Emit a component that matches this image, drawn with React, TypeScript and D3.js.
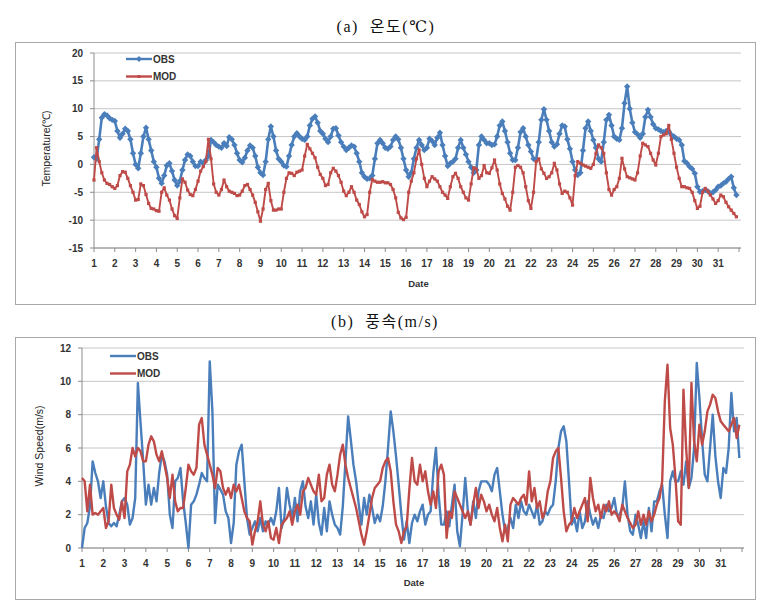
import React from 'react';
import * as d3 from 'd3';

// Hourly series sampled every 3 hours (8 values per day, days 1..31)
const tempObs: number[] = [
  1.3, 1.0, 4.5, 8.4, 9.0, 8.8, 8.3, 8.0,
  7.8, 6.0, 4.8, 5.5, 6.4, 6.0, 4.5, 2.0,
  0.0, -0.7, 2.0, 5.0, 6.6, 4.5, 2.5, 0.5,
  -0.5, -2.5, -3.4, -2.0, -0.2, 0.2, -1.2, -2.8,
  -3.8, -3.0, -1.0, 0.8, 1.8, 1.5, 0.5, -0.3,
  -0.3, 0.5, 0.2, 0.8, 1.5, 4.4, 4.0, 3.5,
  3.2, 3.0, 3.8, 3.3, 4.9, 4.5, 3.5, 2.0,
  0.8, 0.4, 1.2, 2.5, 3.4, 3.0, 1.5, -0.5,
  -1.5, -1.9, 0.5, 4.5, 6.8, 5.0, 2.5, 1.0,
  0.5, -0.2, -0.4, 1.5, 3.5, 5.0, 5.6, 5.0,
  4.6, 4.4, 5.0, 7.0, 8.2, 8.6, 7.5, 6.0,
  5.5, 4.6, 4.0, 5.0, 6.4, 6.5, 5.2, 4.0,
  3.2, 2.6, 3.0, 3.4, 3.2, 2.0, 0.5, -1.5,
  -2.2, -2.6, -2.5, -2.0, 1.0, 3.8, 4.4, 3.8,
  3.0, 2.8, 3.2, 4.4, 5.0, 4.5, 3.0, 1.0,
  -1.0, -2.2, -1.5, 1.0, 3.0, 4.4, 3.5, 2.6,
  3.0, 4.6, 4.2, 3.5, 4.8, 5.7, 3.5, 1.5,
  -0.3, 0.2, 0.5, 1.0, 3.0, 4.4, 3.0, 1.8,
  0.5, -0.5, -1.5, -1.0, 3.5, 5.0, 4.4, 3.8,
  3.8, 3.5, 3.6, 5.0, 7.0, 7.7, 6.0, 4.0,
  2.0, 0.8, 0.8, 3.0, 5.8, 6.5, 5.0, 3.5,
  2.3, 1.0, 0.8, 4.0, 8.0, 9.9, 8.0, 6.0,
  4.0, 3.2, 3.6, 5.5, 7.0, 6.8, 4.5, 2.8,
  0.5, -1.0, -1.9, -1.5, 2.5, 6.5, 7.7, 6.0,
  4.4, 3.0, 1.0, 0.5, 4.0, 8.0, 8.9, 7.0,
  5.0, 4.6, 4.4, 6.5, 11.0, 14.0, 10.0, 7.5,
  5.8, 5.4, 4.8, 5.5, 8.5, 9.8, 8.5, 7.2,
  6.5, 6.3, 6.0, 5.8, 6.0, 5.9, 5.3, 5.0,
  4.6, 4.4, 3.5, 0.6, 0.2, -0.4, -0.8, -1.6,
  -4.0, -4.9, -4.8, -4.6, -4.8, -5.2, -5.0, -4.6,
  -4.0, -3.8, -3.4, -3.1, -2.6, -2.2, -4.2, -5.5,
];

const tempMod: number[] = [
  -2.8, 3.0, 0.5, -1.5, -2.8, -3.4, -3.6, -4.0,
  -4.3, -3.8, -2.0, -1.3, -1.4, -2.5, -3.8, -5.0,
  -6.4, -6.3, -3.5, -3.8, -5.4, -7.0, -7.9, -8.0,
  -8.3, -8.4, -5.0, -4.2, -5.5, -6.4, -8.0, -9.2,
  -9.7, -6.0, -2.6, -3.2, -4.6, -5.4, -5.6, -4.5,
  -3.0, -1.2, -0.4, 0.5, 4.5, 1.0, -3.5, -5.0,
  -5.5, -4.5, -2.8, -4.0, -4.8, -5.0, -5.2, -5.6,
  -5.5, -4.8, -3.8, -3.6, -4.5, -5.5, -6.8, -8.5,
  -10.2, -8.0, -4.5, -3.4, -6.5, -8.2, -8.2, -8.0,
  -8.0, -5.0, -2.5, -1.5, -1.6, -2.0, -1.4, -1.2,
  -1.0, 1.5, 3.6, 2.8, 2.0, 1.2, -0.5, -1.8,
  -2.5, -3.8, -3.6, -1.5, -0.7, -1.2, -2.0, -3.2,
  -4.8, -5.6, -5.0, -4.0, -5.0, -6.4, -7.2, -8.5,
  -9.4, -9.0, -5.0, -2.7, -3.0, -3.2, -3.2, -3.1,
  -3.3, -3.3, -3.6, -4.5, -6.0, -8.6, -9.6, -9.9,
  -9.5, -5.0, -3.0, -1.5, 1.0, 2.6, 0.0, -2.5,
  -4.0, -3.0, -2.2, -2.6, -3.0, -4.0, -5.0, -5.5,
  -6.1, -4.0, -2.2, -1.6, -2.5, -4.0, -5.0, -6.0,
  -6.4, -3.5, -0.6, -0.8, -2.5, -2.0, -0.2, -1.5,
  -1.6, -0.6, 0.8, -1.0, -3.5, -5.2, -6.2, -7.5,
  -8.2, -5.0, -0.5, -0.2, -0.5, -1.5, -4.0, -6.5,
  -7.9, -5.0, 0.5, 1.0, -0.8, -1.6, -2.5, -2.2,
  -1.5, 0.2, -1.0, -3.5, -5.2, -4.8, -5.0, -6.0,
  -7.3, -2.0, 0.5, 0.2, -0.1, -0.3, -0.5, -0.7,
  0.0, 2.0, 3.5, 3.0, 2.0, -1.5, -4.5, -5.5,
  -4.5, -4.0, -2.5, 1.1, -0.8, -2.2, -2.4, -2.6,
  -2.8, -1.5, 1.5, 3.8, 3.5, 3.2, 2.0, 0.8,
  -0.1, 2.0, 5.0, 5.3, 5.5, 7.0, 4.5, 2.0,
  -0.5, -2.5, -4.0, -4.0, -4.2, -4.3, -5.0, -6.5,
  -7.9, -7.5, -5.0, -4.3, -4.8, -5.5, -6.2, -7.0,
  -6.5, -5.5, -5.8, -6.8, -7.6, -8.2, -8.8, -9.4,
];

const windObs: number[] = [
  0.0, 1.2, 1.5, 2.5, 5.2, 4.5, 4.0, 3.0,
  4.0, 2.5, 1.5, 1.3, 1.5, 1.3, 2.0, 2.8,
  3.0, 2.6, 1.4, 1.8, 3.0, 9.9, 7.5, 5.2,
  2.6, 3.8, 2.6, 3.6, 2.8, 4.5, 5.6, 5.2,
  4.4, 2.0, 1.2, 4.0, 4.2, 4.8, 2.8, 1.5,
  0.0, 2.6, 2.8, 3.2, 3.8, 4.5, 4.2, 4.0,
  11.2, 8.2, 1.5, 3.8, 3.5, 3.2, 2.2, 1.8,
  0.3, 1.5, 5.0, 5.8, 6.2, 4.0, 1.8, 0.8,
  1.2, 1.6, 1.0, 1.8, 1.0, 1.6, 1.4, 1.8,
  1.4, 2.2, 3.6, 1.2, 1.8, 3.6, 2.6, 1.8,
  3.0, 1.6, 3.4, 4.0, 2.5, 1.8, 2.8, 1.4,
  3.2, 1.5, 0.8, 2.4, 1.0, 2.8, 2.0, 1.4,
  1.2, 0.8, 2.5, 5.2, 7.9, 6.5, 5.0, 4.0,
  2.6, 1.4, 3.0, 2.0, 3.2, 2.4, 1.5, 2.0,
  1.6, 2.5, 4.0, 6.0, 8.2, 7.0, 5.5, 3.8,
  2.0, 0.5, 1.6, 0.3, 1.5, 2.0, 1.6, 2.2,
  2.6, 1.4, 2.0, 2.2, 4.5, 6.0, 3.2, 1.4,
  1.4, 2.2, 1.3, 2.6, 3.8, 1.0, 0.1, 2.0,
  4.2, 2.2, 1.4, 2.8, 1.8, 3.4, 4.0, 4.0,
  4.0, 3.8, 3.4, 4.4, 4.8, 3.4, 2.0, 1.0,
  1.2, 1.8, 1.2, 2.6, 1.8, 2.8, 2.2, 2.0,
  2.6, 2.2, 1.8, 2.6, 1.4, 1.6, 2.2, 2.0,
  2.4, 2.6, 4.0, 6.0, 7.0, 7.3, 6.4, 4.0,
  1.4, 1.8, 1.0, 2.2, 1.2, 1.6, 2.8, 2.0,
  1.4, 1.8, 1.2, 2.0, 1.8, 2.6, 2.2, 2.4,
  3.0, 2.0, 2.0, 2.4, 4.0, 2.0, 1.0, 0.8,
  2.0, 1.4, 0.6, 1.6, 0.6, 2.4, 1.0, 2.8,
  2.8, 3.4, 3.8, 2.0, 0.6, 4.0, 4.6, 4.0,
  4.0, 4.6, 3.8, 5.2, 3.6, 4.2, 6.0, 11.1,
  9.0, 6.5, 4.4, 4.0, 6.0, 8.0, 5.5, 4.0,
  3.0, 4.8, 4.5, 6.0, 9.3, 7.0, 7.8, 5.4,
];

const windMod: number[] = [
  4.2, 4.0, 2.2, 3.8, 2.0, 2.1, 2.0, 2.2,
  2.4, 1.2, 1.6, 3.8, 2.4, 2.0, 1.7, 2.8,
  1.8, 4.6, 5.0, 6.0, 5.5, 6.0, 5.8, 5.2,
  5.2, 6.2, 6.7, 6.4, 5.6, 5.2, 5.8, 5.0,
  4.2, 3.0, 4.4, 2.8, 2.2, 2.4, 2.4, 3.6,
  5.0, 4.6, 4.4, 4.8, 7.4, 7.8, 6.2, 5.6,
  5.0, 4.4, 3.6, 4.8, 4.6, 3.6, 3.2, 3.6,
  3.0, 3.8, 3.4, 3.8, 3.0, 2.2, 1.8, 1.6,
  0.2, 1.0, 1.6, 2.8, 1.4, 1.0, 1.6, 0.6,
  0.5, 1.2, 0.3, 1.4, 1.6, 1.8, 2.2, 1.4,
  2.2, 2.6, 2.0, 3.4, 3.6, 4.2, 3.8, 3.4,
  3.2, 4.4, 2.8, 3.0, 4.4, 5.0, 3.8, 3.4,
  4.4, 5.6, 6.2, 5.0, 4.2, 3.6, 3.0, 2.4,
  1.6, 0.8, 0.2, 1.0, 2.0, 3.0, 3.6, 3.8,
  4.0, 4.8, 5.2, 5.4, 4.6, 2.8, 1.4, 1.0,
  0.3, 1.0, 1.3, 3.5, 5.4, 4.0, 3.8, 5.0,
  4.0, 4.6, 3.4, 2.6, 3.4, 2.4, 4.6, 5.0,
  4.4, 0.6, 2.2, 1.8, 3.4, 3.0, 2.6, 2.2,
  1.8, 2.2, 1.4, 2.6, 3.6, 2.4, 3.2, 2.8,
  2.2, 2.6, 2.0, 1.6, 2.4, 1.2, 0.4, 1.4,
  0.4, 2.6, 3.0, 2.8, 2.6, 3.0, 3.2, 2.6,
  4.6, 2.8, 3.6, 2.4, 2.8, 1.8, 2.2, 3.4,
  4.0, 5.4, 5.8, 6.0, 4.2, 2.2, 1.0, 1.4,
  1.6, 2.4, 1.8, 2.2, 2.6, 3.0, 1.6, 4.2,
  3.0, 2.2, 2.6, 1.8, 2.6, 2.2, 2.8, 2.0,
  2.2, 2.0, 1.6, 2.6, 2.2, 1.8, 1.5, 1.2,
  1.4, 2.2, 1.4, 2.0, 1.4, 2.2, 1.6, 2.0,
  2.6, 3.0, 4.0, 8.8, 11.0, 7.2, 6.2, 4.2,
  1.6, 1.4, 9.5, 6.0, 3.6, 9.9, 6.4, 5.2,
  7.4, 6.2, 7.0, 8.2, 8.6, 9.2, 9.0, 8.2,
  7.6, 7.4, 7.2, 7.0, 7.4, 7.8, 6.6, 7.4,
];

const dayLabels: string[] = [
  '1', '2', '3', '4', '5', '6', '7', '8', '9', '10', '11', '12', '13', '14', '15', '16',
  '17', '18', '19', '20', '21', '22', '23', '24', '25', '26', '27', '28', '29', '30', '31',
];
const tempTicks: number[] = [20, 15, 10, 5, 0, -5, -10, -15];
const windTicks: number[] = [12, 10, 8, 6, 4, 2, 0];
const seriesNames: string[] = ['OBS', 'MOD'];

const STEP_HOURS = 3;
const TOTAL_HOURS = 744;
const BLUE = '#4a7ebb';
const RED = '#be4b48';
const GRID = '#c6c6c6';
const AXIS = '#8c8c8c';
const TICK_FONT = "'Liberation Sans', Arial, sans-serif";

type PanelProps = {
  obs: number[];
  mod: number[];
  x: d3.ScaleLinear<number, number>;
  y: d3.ScaleLinear<number, number>;
  ticks: number[];
  yTitle: string;
  yTitleX: number;
  markers: boolean;
  legendX: number;
  legendY: number;
  dateY: number;
  labelY: number;
};

function Panel(p: PanelProps) {
  const { x, y } = p;
  const x0 = x(0);
  const x1 = x(TOTAL_HOURS) + 2;
  const yBottom = y(p.ticks[p.ticks.length - 1]);
  const yTop = y(p.ticks[0]);
  const line = d3
    .line<number>()
    .x((_, i) => x(i * STEP_HOURS))
    .y((v) => y(v));
  const dayHours = d3.range(0, TOTAL_HOURS + 1, 24);
  const diamond = (cx: number, cy: number, r: number) =>
    `M${cx},${cy - r}L${cx + r},${cy}L${cx},${cy + r}L${cx - r},${cy}Z`;
  const colors = [BLUE, RED];
  const series = [p.obs, p.mod];
  const strokeW = p.markers ? [2.6, 1.9] : [2.4, 2.4];
  return (
    <g>
      {p.ticks.map((t) => (
        <line key={'g' + t} x1={x0} x2={x1} y1={y(t)} y2={y(t)} stroke={GRID} strokeWidth={1} />
      ))}
      <line x1={x0} x2={x0} y1={yTop} y2={yBottom} stroke={AXIS} strokeWidth={1} />
      <line x1={x0} x2={x1} y1={yBottom} y2={yBottom} stroke={AXIS} strokeWidth={1} />
      {p.ticks.map((t) => (
        <g key={'t' + t}>
          <line x1={x0 - 4} x2={x0} y1={y(t)} y2={y(t)} stroke={AXIS} />
          <text
            x={x0 - 11}
            y={y(t) + 3.5}
            textAnchor="end"
            fontFamily={TICK_FONT}
            fontWeight="bold"
            fontSize={10}
            fill="#333"
          >
            {t}
          </text>
        </g>
      ))}
      {dayHours.map((h) => (
        <line key={'xt' + h} x1={x(h)} x2={x(h)} y1={yBottom} y2={yBottom + 4} stroke={AXIS} />
      ))}
      {dayLabels.map((lab, i) => (
        <text
          key={'xl' + lab}
          x={x(i * 24)}
          y={p.labelY}
          textAnchor="middle"
          fontFamily={TICK_FONT}
          fontWeight="bold"
          fontSize={10}
          fill="#333"
        >
          {lab}
        </text>
      ))}
      <text
        x={(x0 + x1) / 2 + 1}
        y={p.dateY}
        textAnchor="middle"
        fontFamily={TICK_FONT}
        fontWeight="bold"
        fontSize={9.5}
        fill="#333"
      >
        Date
      </text>
      <text
        transform={`translate(${p.yTitleX},${(yTop + yBottom) / 2 - 2}) rotate(-90)`}
        textAnchor="middle"
        fontFamily={TICK_FONT}
        fontSize={10.5}
        fill="#222"
      >
        {p.yTitle}
      </text>
      {series.map((s, k) => (
        <g key={'s' + k}>
          <path d={line(s) || ''} fill="none" stroke={colors[k]} strokeWidth={strokeW[k]} strokeLinejoin="round" />
          {p.markers &&
            s.map((v, i) =>
              k === 0 ? (
                <path key={i} d={diamond(x(i * STEP_HOURS), y(v), 3.2)} fill={BLUE} />
              ) : (
                <rect key={i} x={x(i * STEP_HOURS) - 1.6} y={y(v) - 1.6} width={3.2} height={3.2} fill={RED} />
              )
            )}
        </g>
      ))}
      {seriesNames.map((name, k) => {
        const ly = p.legendY + k * 17.5;
        return (
          <g key={'lg' + name}>
            <line x1={p.legendX} x2={p.legendX + 26} y1={ly} y2={ly} stroke={colors[k]} strokeWidth={2.4} />
            {p.markers &&
              (k === 0 ? (
                <path d={diamond(p.legendX + 13, ly, 3)} fill={BLUE} />
              ) : (
                <rect x={p.legendX + 11.5} y={ly - 1.5} width={3} height={3} fill={RED} />
              ))}
            <text
              x={p.legendX + 27}
              y={ly + 3.5}
              fontFamily={TICK_FONT}
              fontWeight="bold"
              fontSize={10}
              fill="#333"
            >
              {name}
            </text>
          </g>
        );
      })}
    </g>
  );
}

export default function App() {
  const xTemp = d3.scaleLinear().domain([0, TOTAL_HOURS]).range([94, 739]);
  const yTemp = d3.scaleLinear().domain([-15, 20]).range([248, 53]);
  const xWind = d3.scaleLinear().domain([0, TOTAL_HOURS]).range([82, 742]);
  const yWind = d3.scaleLinear().domain([0, 12]).range([548, 348]);
  const titleFont = "'Liberation Serif', 'DejaVu Serif', 'Noto Sans CJK KR', serif";
  return (
    <svg
      width={767}
      height={606}
      style={{ position: 'absolute', left: 0, top: 0, background: '#fff' }}
    >
      <rect x={0} y={0} width={767} height={606} fill="#fff" />
      <text
        x={386}
        y={32}
        textAnchor="middle"
        fontFamily={titleFont}
        fontSize={16}
        letterSpacing={1.5}
        fill="#111"
        style={{ whiteSpace: 'pre' }}
      >
        {'(a)  온도(℃)'}
      </text>
      <rect x={15.5} y={42.5} width={740} height={262} fill="#fff" stroke="#a9a9a9" strokeWidth={1} />
      <Panel
        obs={tempObs}
        mod={tempMod}
        x={xTemp}
        y={yTemp}
        ticks={tempTicks}
        yTitle="Temperature(℃)"
        yTitleX={50}
        markers={true}
        legendX={126}
        legendY={59}
        dateY={287}
        labelY={267}
      />
      <text
        x={385}
        y={327}
        textAnchor="middle"
        fontFamily={titleFont}
        fontSize={16}
        letterSpacing={1.5}
        fill="#111"
        style={{ whiteSpace: 'pre' }}
      >
        {'(b)  풍속(m/s)'}
      </text>
      <rect x={15.5} y={337.5} width={740} height={262} fill="#fff" stroke="#a9a9a9" strokeWidth={1} />
      <Panel
        obs={windObs}
        mod={windMod}
        x={xWind}
        y={yWind}
        ticks={windTicks}
        yTitle="Wind Speed(m/s)"
        yTitleX={43}
        markers={false}
        legendX={110}
        legendY={356}
        dateY={586}
        labelY={567}
      />
    </svg>
  );
}
